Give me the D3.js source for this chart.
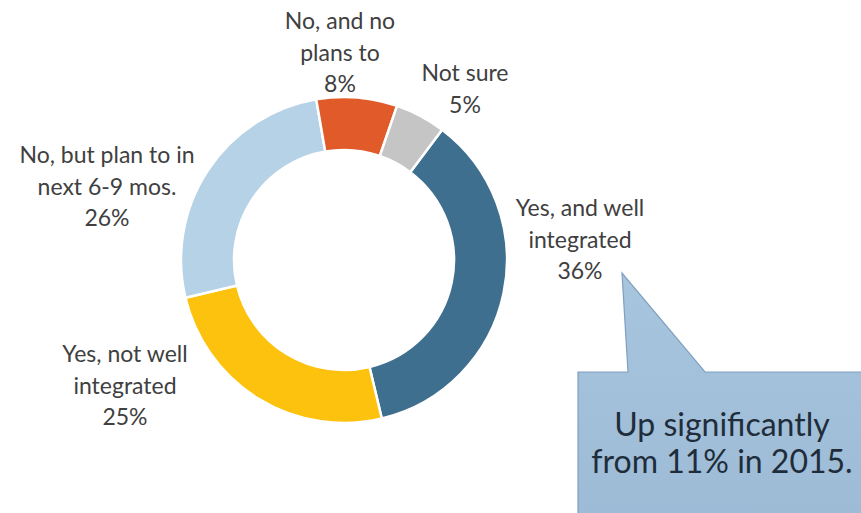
<!DOCTYPE html>
<html>
<head>
<meta charset="utf-8">
<script src="https://cdn.jsdelivr.net/npm/d3@7"></script>
<style>
  html, body { margin: 0; padding: 0; background: #ffffff; }
  svg { display: block; }
  text { font-family: Lato, "Open Sans", sans-serif; }
</style>
</head>
<body>
<svg id="chart" width="861" height="513"></svg>
<script>
// ---- data ----
const categories = [
  "Yes, and well integrated",
  "Yes, not well integrated",
  "No, but plan to in next 6-9 mos.",
  "No, and no plans to",
  "Not sure"
];
const values = [36, 25, 26, 8, 5];
const labelLines = [
  ["Yes, and well", "integrated"],
  ["Yes, not well", "integrated"],
  ["No, but plan to in", "next 6-9 mos."],
  ["No, and no", "plans to"],
  ["Not sure"]
];
const calloutLines = ["Up significantly", "from 11% in 2015."];

// ---- styles / layout ----
const colors = ["#3f6f8f", "#fdc20e", "#b6d2e6", "#e05a2a", "#c5c5c5"];
// label anchor: centre x and baseline of first line
const labelPos = [
  { x: 580, y: 216 },
  { x: 125, y: 362 },
  { x: 107, y: 163 },
  { x: 340, y: 29 },
  { x: 465, y: 81 }
];
const lineGap = 31.5;
const cx = 344, cy = 260, outerR = 163, innerR = 110;
const startDeg = 37;

const svg = d3.select("#chart");

const pie = d3.pie()
  .sort(null)
  .value(d => d)
  .startAngle(startDeg * Math.PI / 180)
  .endAngle(startDeg * Math.PI / 180 + 2 * Math.PI);

const arc = d3.arc().innerRadius(innerR).outerRadius(outerR);

const g = svg.append("g").attr("transform", `translate(${cx},${cy})`);
g.selectAll("path")
  .data(pie(values))
  .join("path")
  .attr("d", arc)
  .attr("fill", (d, i) => colors[i])
  .attr("stroke", "#ffffff")
  .attr("stroke-width", 2.5);

// labels
const labels = svg.append("g");
categories.forEach((c, i) => {
  const lines = labelLines[i].concat([values[i] + "%"]);
  const t = labels.append("text")
    .attr("text-anchor", "middle")
    .attr("font-size", 23)
    .attr("fill", "#404040");
  lines.forEach((ln, k) => {
    t.append("tspan")
      .attr("x", labelPos[i].x)
      .attr("y", labelPos[i].y + k * lineGap)
      .text(ln);
  });
});

// callout
const defs = svg.append("defs");
const grad = defs.append("linearGradient").attr("id", "cg")
  .attr("x1", "0").attr("y1", "0").attr("x2", "0").attr("y2", "1");
grad.append("stop").attr("offset", "0%").attr("stop-color", "#a8c5de");
grad.append("stop").attr("offset", "100%").attr("stop-color", "#9dbbd6");

const box = { l: 578, t: 372, r: 875, b: 525 };
const tip = { x: 622, y: 273 };
const baseL = 628, baseR = 705;
const cp = d3.path();
cp.moveTo(box.l, box.t);
cp.lineTo(baseL, box.t);
cp.lineTo(tip.x, tip.y);
cp.lineTo(baseR, box.t);
cp.lineTo(box.r, box.t);
cp.lineTo(box.r, box.b);
cp.lineTo(box.l, box.b);
cp.closePath();
svg.append("path")
  .attr("d", cp.toString())
  .attr("fill", "url(#cg)")
  .attr("stroke", "#7f9fbf")
  .attr("stroke-width", 1.2);

const ct = svg.append("text")
  .attr("text-anchor", "middle")
  .attr("font-size", 32)
  .attr("fill", "#1f2d3a");
calloutLines.forEach((ln, k) => {
  ct.append("tspan").attr("x", 722).attr("y", 436 + k * 37).text(ln);
});
</script>
</body>
</html>
